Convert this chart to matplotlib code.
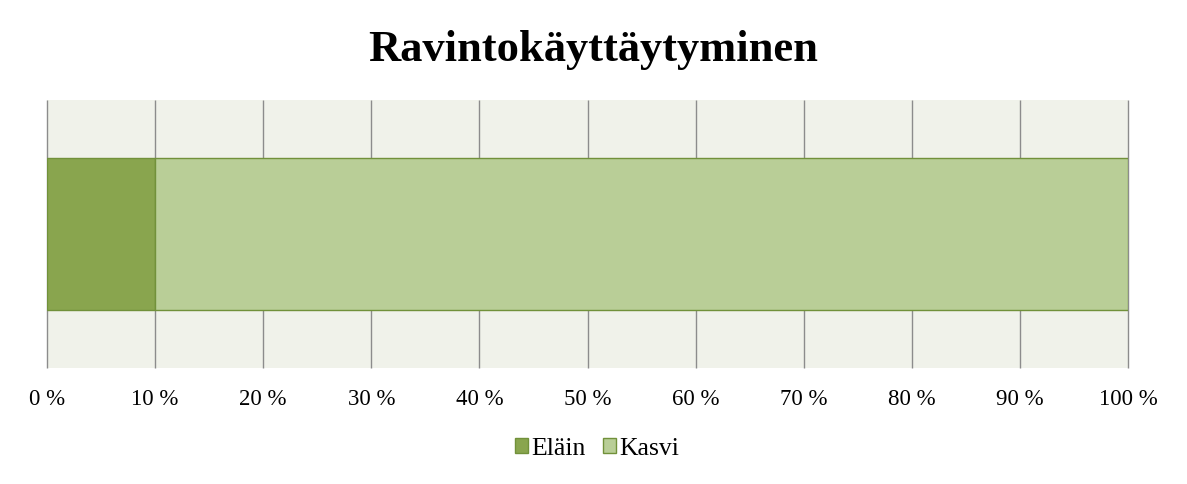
import matplotlib.pyplot as plt
from matplotlib.patches import Patch

plt.rcParams['font.family'] = ['Liberation Serif', 'DejaVu Serif']

# Data
categories = ["Ravinto"]
series_names = ["Eläin", "Kasvi"]
elain = [10]
kasvi = [90]
tick_values = [0, 10, 20, 30, 40, 50, 60, 70, 80, 90, 100]
tick_labels = [f"{v} %" for v in tick_values]

colors = ["#89A54E", "#B9CE97"]
edge = "#71913A"

fig = plt.figure(figsize=(11.87, 4.84), dpi=100)
ax = fig.add_axes([0.0396, 0.2397, 0.9107, 0.5537])
ax.set_facecolor("#F0F2EA")

ax.barh(categories, elain, height=0.57, color=colors[0], edgecolor=edge, linewidth=1, zorder=3)
ax.barh(categories, kasvi, left=elain, height=0.57, color=colors[1], edgecolor=edge, linewidth=1, zorder=3)

ax.set_xlim(0, 100)
ax.set_ylim(-0.5, 0.5)
ax.set_xticks(tick_values)
ax.set_xticklabels(tick_labels, fontsize=16.5)
ax.set_yticks([])
ax.tick_params(axis='x', length=0, pad=15)
# vertical gridlines, incl. the ones on the edges
ax.vlines(tick_values, -0.5, 0.5, colors="#8C8C8C", linewidth=1, zorder=1, clip_on=False)
for s in ax.spines.values():
    s.set_visible(False)

fig.suptitle("Ravintokäyttäytyminen", fontsize=32, fontweight='bold', y=0.937)

handles = [Patch(facecolor=c, edgecolor=edge, label=n) for c, n in zip(colors, series_names)]
fig.legend(handles=handles, loc='center', bbox_to_anchor=(0.503, 0.073), ncol=2, frameon=False,
           fontsize=18.5, handlelength=0.5, handleheight=0.5, handletextpad=0.15, columnspacing=0.65)

fig.savefig("out.png", dpi=100)
